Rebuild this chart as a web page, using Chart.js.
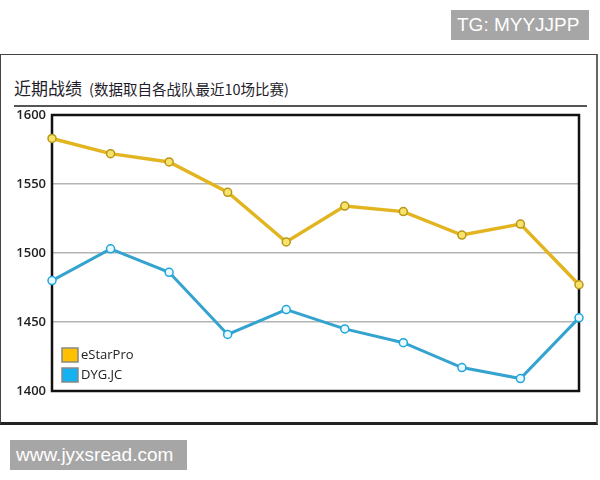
<!DOCTYPE html>
<html><head><meta charset="utf-8">
<script src="https://cdn.jsdelivr.net/npm/chart.js@4/dist/chart.umd.min.js"></script>
<style>
html,body{margin:0;padding:0;background:#fff;}
#wrap{position:relative;width:600px;height:480px;overflow:hidden;font-family:"Noto Sans CJK SC","Open Sans",sans-serif;}
#frame{position:absolute;left:0;top:54px;width:595px;height:367px;border:1.5px solid #444;border-bottom:3px solid #222;border-right:2px solid #666;}
#title{position:absolute;left:14px;top:75px;color:#231c2a;white-space:nowrap;}
#title .big{font-size:17px;}
#title .small{font-size:14.5px;margin-left:7px;}
#rule{position:absolute;left:14px;top:105px;width:573px;height:1.5px;background:#555;}
.wm{position:absolute;background:#a6a6a6;color:#fff;font-family:"Liberation Sans",Arial,sans-serif;font-size:19px;line-height:30px;padding:0 6px;}
#tg{left:451px;top:10px;width:126px;}
#www{left:10px;top:440px;width:165px;}
canvas{position:absolute;left:0;top:0;}
</style></head>
<body>
<div id="wrap">
  <div id="frame"></div>
  <div id="title"><span class="big">近期战绩</span><span class="small">(数据取自各战队最近10场比赛)</span></div>
  <div id="rule"></div>
  <canvas id="c" width="600" height="480"></canvas>
  <div class="wm" id="tg">TG: MYYJJPP</div>
  <div class="wm" id="www">www.jyxsread.com</div>
</div>
<script>
const categories = ['1','2','3','4','5','6','7','8','9','10'];
const seriesNames = ['eStarPro','DYG.JC'];
const estarValues = [1583, 1572, 1566, 1544, 1508, 1534, 1530, 1513, 1521, 1477];
const dygValues = [1480, 1503, 1486, 1441, 1459, 1445, 1435, 1417, 1409, 1453];
const yTicks = [1400, 1450, 1500, 1550, 1600];

const frameAndLegend = {
  id: 'frameAndLegend',
  beforeDatasetsDraw(chart) {
    const {ctx, chartArea: a} = chart;
    ctx.save();
    ctx.strokeStyle = '#111';
    ctx.lineWidth = 2.5;
    ctx.strokeRect(a.left, a.top, a.right - a.left, a.bottom - a.top);
    ctx.restore();
  },
  afterDatasetsDraw(chart) {
    const {ctx, chartArea: a} = chart;
    ctx.save();
    const legendFill = ['#ffc000', '#14b2f0'];
    chart.data.datasets.forEach((ds, i) => {
      const x = a.left + 10, y = a.bottom - 43 + i * 20;
      ctx.fillStyle = legendFill[i];
      ctx.fillRect(x, y, 16, 14);
      ctx.strokeStyle = '#888';
      ctx.lineWidth = 1.5;
      ctx.strokeRect(x, y, 16, 14);
      ctx.fillStyle = '#222';
      ctx.font = '13px "Open Sans", sans-serif';
      ctx.textBaseline = 'middle';
      ctx.fillText(ds.label, x + 19, y + 7.5);
    });
    ctx.restore();
  }
};

new Chart(document.getElementById('c'), {
  type: 'line',
  data: {
    labels: categories,
    datasets: [
      {
        label: seriesNames[0], data: estarValues,
        borderColor: '#e2b520', borderWidth: 3.5,
        pointRadius: 4, pointBorderWidth: 1.5,
        pointBackgroundColor: '#f7e36a', pointBorderColor: '#b8961a',
        tension: 0
      },
      {
        label: seriesNames[1], data: dygValues,
        borderColor: '#35a3cf', borderWidth: 3,
        pointRadius: 4, pointBorderWidth: 1.5,
        pointBackgroundColor: '#eaf8ff', pointBorderColor: '#1fa6dc',
        tension: 0
      }
    ]
  },
  plugins: [frameAndLegend],
  options: {
    responsive: false,
    animation: false,
    layout: { padding: { left: 0, top: 115, right: 21, bottom: 89 } },
    plugins: { legend: { display: false }, title: { display: false }, tooltip: { enabled: false } },
    scales: {
      x: { display: false, offset: false },
      y: {
        min: 1400, max: 1600,
        afterBuildTicks(scale) { scale.ticks = yTicks.map(v => ({value: v})); },
        afterFit(scale) { scale.width = 52; },
        border: { display: false },
        grid: {
          drawTicks: false,
          color: (c) => (c.tick.value === 1400 || c.tick.value === 1600) ? 'rgba(0,0,0,0)' : '#b4b4b4',
          lineWidth: 1.5
        },
        ticks: {
          padding: 6,
          color: '#222',
          font: { family: '"Open Sans", sans-serif', size: 13, weight: '600' },
          callback: (v) => String(v)
        }
      }
    }
  }
});
</script>
</body></html>
